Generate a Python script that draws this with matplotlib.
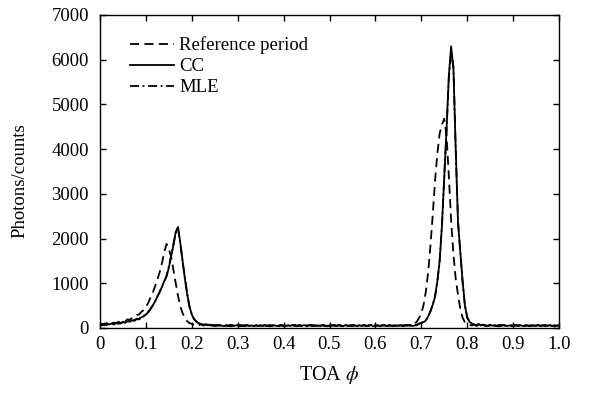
import numpy as np
import matplotlib
matplotlib.use('Agg')
import matplotlib.pyplot as plt

plt.rcParams['font.family'] = ['Liberation Serif', 'DejaVu Serif']
plt.rcParams['mathtext.fontset'] = 'stix'

# phase bins (0.005 wide)
phase = np.round(np.arange(0, 1.0001, 0.005), 3)

# reference period profile, counts per bin
ref_counts = [
    80, 60, 95, 70, 110, 85, 120, 100, 140, 115,
    160, 150, 195, 180, 230, 240, 290, 300, 360, 400,
    470, 560, 680, 790, 930, 1080, 1250, 1450, 1700, 1880,
    1760, 1600, 1300, 1000, 720, 480, 330, 220, 150, 110,
    90, 75, 95, 60, 80, 55, 70, 85, 50, 65,
    45, 70, 55, 40, 75, 50, 60, 35, 65, 55,
    45, 70, 40, 60, 50, 35, 65, 45, 55, 40,
    70, 50, 45, 60, 35, 55, 70, 40, 50, 65,
    45, 55, 35, 60, 50, 70, 40, 55, 45, 60,
    35, 65, 50, 45, 70, 40, 55, 60, 45, 50,
    65, 40, 55, 45, 70, 50, 35, 60, 45, 55,
    40, 65, 50, 55, 45, 70, 40, 60, 50, 45,
    65, 55, 40, 60, 50, 70, 45, 55, 40, 65,
    50, 45, 60, 55, 70, 50, 60, 90, 140, 220,
    330, 520, 820, 1250, 1850, 2550, 3300, 3900, 4350, 4550,
    4680, 4300, 3400, 2400, 1650, 1100, 740, 430, 230, 130,
    90, 70, 55, 75, 45, 60, 50, 70, 40, 55,
    65, 45, 60, 50, 35, 70, 55, 45, 60, 40,
    55, 65, 45, 50, 70, 40, 60, 55, 45, 65,
    50, 60, 40, 55, 70, 45, 60, 50, 35, 55,
    60,
]

# profile folded with the CC period
cc_counts = [
    70, 95, 60, 110, 80, 100, 75, 120, 95, 110,
    130, 115, 150, 140, 170, 160, 200, 190, 240, 260,
    300, 350, 420, 500, 600, 700, 800, 920, 1050, 1150,
    1350, 1600, 1850, 2150, 2260, 1900, 1500, 1100, 750, 480,
    300, 200, 140, 110, 90, 70, 85, 60, 75, 50,
    65, 45, 70, 55, 40, 60, 50, 70, 45, 55,
    65, 40, 60, 50, 70, 45, 55, 35, 65, 50,
    45, 60, 55, 40, 70, 50, 60, 45, 55, 65,
    40, 50, 60, 45, 70, 55, 40, 60, 50, 65,
    45, 55, 70, 40, 60, 50, 45, 65, 55, 40,
    60, 50, 70, 45, 55, 60, 40, 65, 50, 45,
    70, 55, 40, 60, 50, 65, 45, 55, 70, 40,
    50, 60, 45, 65, 55, 40, 70, 50, 60, 45,
    55, 65, 40, 60, 50, 70, 45, 55, 60, 90,
    120, 130, 170, 260, 380, 520, 700, 1050, 1500, 2300,
    3350, 4450, 5650, 6300, 5800, 4000, 2350, 1700, 1050, 500,
    230, 140, 100, 80, 65, 90, 55, 75, 60, 45,
    70, 50, 65, 40, 60, 55, 70, 45, 50, 65,
    40, 60, 55, 70, 45, 50, 60, 40, 65, 55,
    45, 70, 50, 60, 40, 55, 65, 45, 60, 50,
    55,
]

# profile folded with the MLE period
mle_counts = [
    85, 70, 100, 75, 95, 115, 85, 105, 120, 100,
    140, 125, 160, 150, 180, 175, 210, 200, 250, 270,
    310, 360, 430, 510, 590, 710, 810, 930, 1040, 1170,
    1380, 1620, 1880, 2120, 2230, 1880, 1480, 1120, 770, 470,
    310, 190, 150, 100, 80, 75, 60, 80, 55, 70,
    50, 60, 45, 65, 50, 55, 40, 65, 50, 60,
    55, 45, 65, 40, 60, 50, 70, 45, 55, 50,
    60, 45, 65, 50, 55, 45, 70, 50, 40, 60,
    55, 45, 65, 50, 60, 45, 55, 70, 40, 55,
    60, 45, 50, 65, 45, 55, 60, 40, 70, 50,
    45, 60, 55, 50, 65, 40, 55, 70, 45, 60,
    50, 45, 65, 55, 40, 60, 50, 45, 65, 55,
    60, 40, 55, 50, 65, 45, 60, 55, 45, 70,
    50, 55, 45, 65, 55, 60, 50, 65, 70, 100,
    110, 140, 180, 250, 370, 530, 720, 1030, 1520, 2280,
    3380, 4420, 5600, 6150, 5850, 3950, 2400, 1680, 1020, 520,
    240, 150, 95, 85, 60, 80, 65, 70, 50, 60,
    55, 60, 45, 55, 65, 50, 60, 55, 45, 70,
    50, 55, 60, 45, 60, 55, 65, 45, 55, 50,
    60, 50, 45, 65, 55, 50, 60, 45, 55, 60,
    50,
]

fig = plt.figure(figsize=(5.97, 3.97), dpi=100)
ax = fig.add_axes([100/597, 1 - 328/397, 459/597, 313/397])

ax.plot(phase, ref_counts, color='black', lw=1.3, ls=(0, (5, 3)), label='Reference period')
ax.plot(phase, cc_counts, color='black', lw=1.3, ls='-', label='CC')
ax.plot(phase, mle_counts, color='black', lw=1.3, ls=(0, (5, 2, 1, 2)), label='MLE')

ax.set_xlim(0, 1.0)
ax.set_ylim(0, 7000)
ax.set_xticks(np.arange(0, 1.01, 0.1))
ax.set_xticklabels(['0', '0.1', '0.2', '0.3', '0.4', '0.5', '0.6', '0.7', '0.8', '0.9', '1.0'])
ax.set_yticks(np.arange(0, 7001, 1000))
ax.tick_params(direction='in', top=True, right=True, length=4, width=1,
               labelsize=13.5, colors='black')
ax.tick_params(axis='x', pad=6)
ax.tick_params(axis='y', pad=8)
for s in ax.spines.values():
    s.set_linewidth(1.0)

ax.set_xlabel('TOA $\\phi$', fontsize=14.5, labelpad=8)
ax.set_ylabel('Photons/counts', fontsize=13.5)
ax.yaxis.set_label_coords(-0.155, 0.47)

ax.legend(loc='upper left', bbox_to_anchor=(0.05, 0.955), frameon=False,
          fontsize=13.5, handlelength=2.3, labelspacing=0.2, handletextpad=0.3,
          borderaxespad=0)

fig.savefig('out.png', dpi=100)
